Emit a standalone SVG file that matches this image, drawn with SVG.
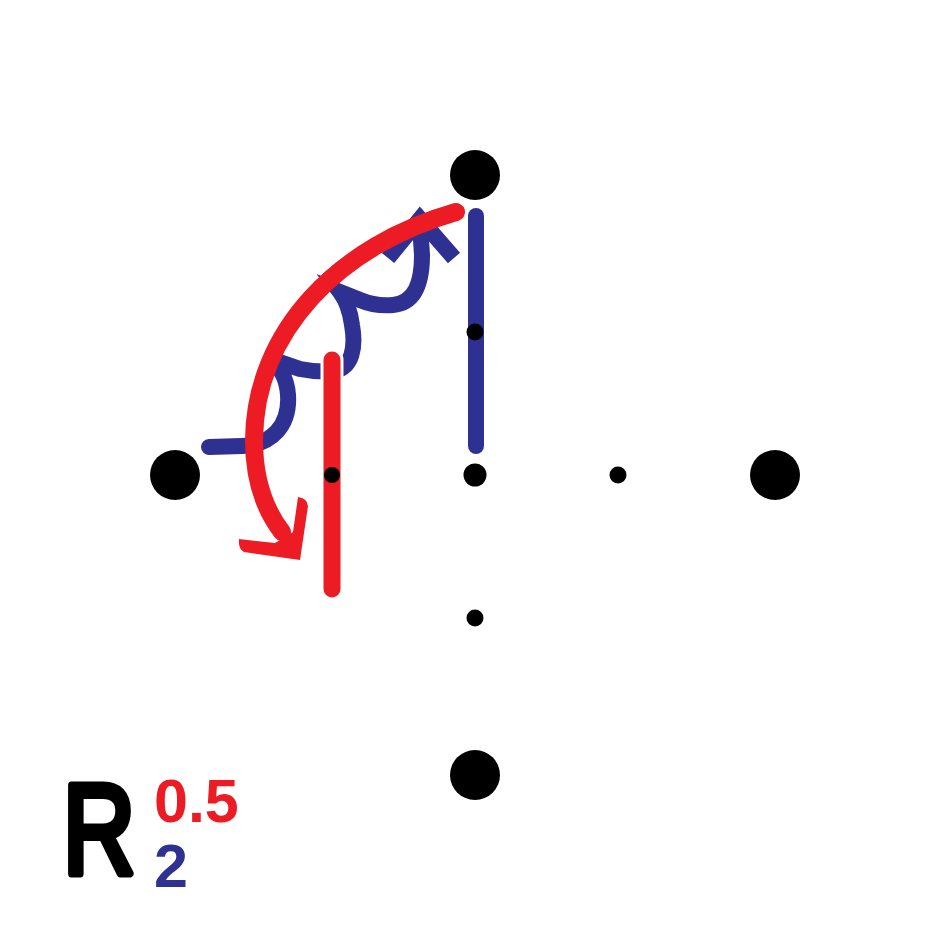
<svg xmlns="http://www.w3.org/2000/svg" width="950" height="950" viewBox="0 0 950 950">
<style>
.dot{fill:#000}
.blue{fill:none;stroke:#2E3192;stroke-width:16}
.red{fill:none;stroke:#ED1C24;stroke-width:18;stroke-linecap:round}
.lbl{font-family:"Liberation Sans",Arial,sans-serif;font-weight:bold}
</style>
<rect width="950" height="950" fill="#fff"/>
<g id="points">
<circle class="dot" cx="475" cy="175" r="25"/>
<circle class="dot" cx="175" cy="475" r="25"/>
<circle class="dot" cx="775" cy="475" r="25"/>
<circle class="dot" cx="475" cy="775" r="25"/>
<circle class="dot" cx="475" cy="475" r="11.5"/>
<circle class="dot" cx="618" cy="475" r="8.5"/>
<circle class="dot" cx="475" cy="618" r="8.5"/>
</g>
<g id="connectors">
<path id="blue-twist" class="blue" stroke-linejoin="miter" stroke-linecap="round" d="M209,447 L242,446 C272,445 290,425 288,395 C287,380 282,368 268,358 L300,369 C315,372 325,372 335,371 C352,367 356,348 352,325 C350,310 346,300 340,292 L360,300 C372,305 382,306 393,305 C415,303 422,283 422,255 L420,225"/>
<polyline id="blue-head" class="blue" stroke-linejoin="miter" stroke-linecap="butt" points="388,258 420,219 454,258"/>
<line id="blue-axis" x1="476" y1="216" x2="476" y2="446" stroke="#2E3192" stroke-width="16" stroke-linecap="round"/>
<circle class="dot" cx="475" cy="332" r="8.5"/>
<path id="red-arc" class="red" d="M456,212 C340,245 255,330 254,440 C254,480 265,510 282,532"/>
<path id="red-head" fill="#ED1C24" d="M239,539 L275,543 L293,532 L298,497 Q307,498 308,506 L300,560 L244,552 Q238,549 239,539 Z"/>
<line x1="332" y1="360" x2="332" y2="589" stroke="#fff" stroke-width="23" stroke-linecap="round"/>
<line id="red-axis" x1="332" y1="360" x2="332" y2="589" stroke="#ED1C24" stroke-width="17" stroke-linecap="round"/>
<circle class="dot" cx="332" cy="475" r="8"/>
</g>
<g id="label">
<text transform="translate(63,874) scale(0.78,1)" font-family="Liberation Sans,Arial,sans-serif" font-size="128" fill="#000" stroke="#000" stroke-width="8" stroke-linejoin="round" stroke-linecap="round">R</text>
<text class="lbl" x="154" y="822" font-size="61" fill="#ED1C24">0.5</text>
<text class="lbl" x="154" y="887" font-size="61" fill="#2E3192">2</text>
</g>
</svg>
